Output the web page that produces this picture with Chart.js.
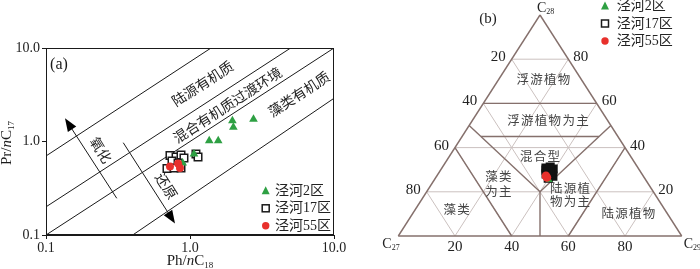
<!DOCTYPE html>
<html><head><meta charset="utf-8">
<script src="https://cdn.jsdelivr.net/npm/chart.js@4.4.1/dist/chart.umd.min.js"></script>
<style>
html,body{margin:0;padding:0;background:#fff;}
#wrap{position:relative;width:700px;height:269px;overflow:hidden;background:#fff;}
#ca{position:absolute;left:0;top:0;}
#cb{position:absolute;left:350px;top:0;}
</style></head><body>
<div id="wrap"><canvas id="ca" width="350" height="269"></canvas><canvas id="cb" width="350" height="269"></canvas></div>
<script>
// ---------------- DATA ----------------
const groupNames = ['泾河2区', '泾河17区', '泾河55区'];
// Panel (a): Ph/nC18 (x) vs Pr/nC17 (y)
const a_zone2_ph  = [1.97, 2.00, 2.76, 1.36, 1.57, 1.066, 0.889];
const a_zone2_pr  = [1.67, 1.42, 1.73, 1.02, 1.02, 0.735, 0.590];
const a_zone17_ph = [0.726, 0.80, 0.866, 0.908, 0.75, 0.826, 0.866, 0.692, 0.774, 1.10, 1.137];
const a_zone17_pr = [0.708, 0.683, 0.718, 0.667, 0.618, 0.589, 0.521, 0.514, 0.521, 0.735, 0.683];
const a_zone55_ph = [0.726, 0.826, 0.852];
const a_zone55_pr = [0.541, 0.582, 0.521];
const a_ticks = [0.1, 1, 10];
// boundary lines (x pairs, y pairs)
const a_lines_x = [[0.1, 1.4], [0.1, 5], [0.1, 10], [0.4, 10]];
const a_lines_y = [[0.7, 10], [0.2, 10], [0.1, 10], [0.1, 2.9]];
const a_zoneLabels = ['陆源有机质', '混合有机质过渡环境', '藻类有机质'];
// Panel (b): sterane C27 / C28 / C29 (%)
const b_zone2_c27  = [34.1];
const b_zone2_c28  = [25.3];
const b_zone2_c29  = [40.6];
const b_zone17_c27 = [32.5, 30.8, 30.2, 32.5, 31.3, 33.8, 32.7, 31.8, 34.0, 31.5, 33.0];
const b_zone17_c28 = [30.8, 31.2, 30.3, 29.4, 29.0, 28.1, 27.6, 27.1, 26.2, 30.0, 29.8];
const b_zone17_c29 = [36.7, 38.0, 39.5, 38.1, 39.7, 38.1, 39.8, 41.0, 39.8, 38.5, 37.2];
const b_zone55_c27 = [34.3, 34.3];
const b_zone55_c28 = [27.2, 26.5];
const b_zone55_c29 = [38.5, 39.2];
const b_ticks = [20, 40, 60, 80];
const b_regionNames = ['浮游植物', '浮游植物为主', '混合型', '藻类', '为主', '陆源植', '物为主', '藻类', '陆源植物'];

// ---------------- STYLE ----------------
const SERIF = '"Liberation Serif", "Noto Sans CJK SC", serif';
const CJK = '"Noto Sans CJK SC", sans-serif';
const GREEN = '#2ea043', RED = '#e8302c', INK = '#1a1a1a';
const DARK = '#85706c', LIGHT = '#cbc1bf';

function zip(xs, ys) { return xs.map((x, i) => ({x: x, y: ys[i]})); }

function drawRich(ctx, parts, x, y, align) {
  let w = 0;
  parts.forEach(p => { ctx.font = p.f; w += ctx.measureText(p.t).width; });
  let cx = align === 'center' ? x - w / 2 : (align === 'right' ? x - w : x);
  ctx.textAlign = 'left';
  ctx.textBaseline = 'alphabetic';
  parts.forEach(p => { ctx.font = p.f; ctx.fillText(p.t, cx, y + (p.dy || 0)); cx += ctx.measureText(p.t).width; });
}
function marker(ctx, type, x, y) {
  ctx.save();
  if (type === 0) {
    ctx.fillStyle = GREEN; ctx.beginPath();
    ctx.moveTo(x, y - 4.5); ctx.lineTo(x + 4, y + 3.5); ctx.lineTo(x - 4, y + 3.5); ctx.closePath(); ctx.fill();
  } else if (type === 1) {
    ctx.fillStyle = '#fff'; ctx.strokeStyle = INK; ctx.lineWidth = 1.5;
    ctx.fillRect(x - 3.5, y - 3.5, 7, 7); ctx.strokeRect(x - 3.5, y - 3.5, 7, 7);
  } else {
    ctx.fillStyle = RED; ctx.beginPath(); ctx.arc(x, y, 3.7, 0, Math.PI * 2); ctx.fill();
  }
  ctx.restore();
}
function legend(ctx, x, tx, ys, size) {
  groupNames.forEach((n, i) => {
    marker(ctx, i, x, ys[i]);
    ctx.fillStyle = '#222'; ctx.font = size + 'px ' + SERIF;
    ctx.textAlign = 'left'; ctx.textBaseline = 'middle';
    ctx.fillText(n, tx, ys[i] + 0.5);
  });
}

// ---------------- PANEL (a) ----------------
const lineSets = a_lines_x.map((xs, i) => ({
  type: 'line', data: zip(xs, a_lines_y[i]), borderColor: INK, borderWidth: 1,
  pointRadius: 0, fill: false, order: 10
}));

const panelA = {
  id: 'panelA',
  beforeDatasetsDraw(chart) {
    const ctx = chart.ctx, xs = chart.scales.x, ys = chart.scales.y;
    const P = (x, y) => [xs.getPixelForValue(x), ys.getPixelForValue(y)];
    ctx.save();
    // arrows
    const arrows = [[0.31, 0.247, 0.1355, 1.77], [0.344, 0.971, 0.787, 0.133]];
    arrows.forEach(a => {
      const [x0, y0] = P(a[0], a[1]), [x1, y1] = P(a[2], a[3]);
      const ang = Math.atan2(y1 - y0, x1 - x0);
      ctx.strokeStyle = INK; ctx.lineWidth = 1;
      ctx.beginPath(); ctx.moveTo(x0, y0);
      ctx.lineTo(x1 - 10 * Math.cos(ang), y1 - 10 * Math.sin(ang)); ctx.stroke();
      ctx.fillStyle = '#000'; ctx.beginPath();
      ctx.moveTo(x1, y1);
      ctx.lineTo(x1 - 13 * Math.cos(ang) + 5 * Math.sin(ang), y1 - 13 * Math.sin(ang) - 5 * Math.cos(ang));
      ctx.lineTo(x1 - 13 * Math.cos(ang) - 5 * Math.sin(ang), y1 - 13 * Math.sin(ang) + 5 * Math.cos(ang));
      ctx.closePath(); ctx.fill();
    });
    // rotated labels
    const [p0x, p0y] = P(0.1, 0.1), [p1x, p1y] = P(10, 10);
    const diag = Math.atan2(p1y - p0y, p1x - p0x);
    ctx.fillStyle = '#222'; ctx.font = '14px ' + CJK; ctx.textAlign = 'center'; ctx.textBaseline = 'middle';
    const pos = [[202.5, 83.5], [227.5, 105], [299, 94]];
    a_zoneLabels.forEach((t, i) => {
      ctx.save(); ctx.translate(pos[i][0], pos[i][1]); ctx.rotate(diag); ctx.fillText(t, 0, 0); ctx.restore();
    });
    const rot = 58 * Math.PI / 180;
    [['氧化', 101, 150], ['还原', 166.5, 186]].forEach(l => {
      ctx.save(); ctx.translate(l[1], l[2]); ctx.rotate(rot); ctx.fillText(l[0], 0, 0); ctx.restore();
    });
    ctx.restore();
  },
  afterDraw(chart) {
    const ctx = chart.ctx, ca = chart.chartArea;
    ctx.save();
    ctx.strokeStyle = INK; ctx.lineWidth = 1;
    ctx.strokeRect(ca.left + 0.5, ca.top + 0.5, ca.right - ca.left - 1, ca.bottom - ca.top - 1);
    ctx.fillStyle = INK;
    drawRich(ctx, [{t: '(a)', f: '16px ' + SERIF}], 59, 69, 'center');
    // axis titles
    drawRich(ctx, [{t: 'Ph/', f: '15px ' + SERIF}, {t: 'n', f: 'italic 15px ' + SERIF}, {t: 'C', f: '15px ' + SERIF}, {t: '18', f: '9px ' + SERIF, dy: 3}], 190, 265, 'center');
    ctx.save(); ctx.translate(11, 143); ctx.rotate(-Math.PI / 2);
    drawRich(ctx, [{t: 'Pr/', f: '15px ' + SERIF}, {t: 'n', f: 'italic 15px ' + SERIF}, {t: 'C', f: '15px ' + SERIF}, {t: '17', f: '9px ' + SERIF, dy: 3}], 0, 0, 'center');
    ctx.restore();
    legend(ctx, 265.7, 275, [190.7, 208.3, 225.8], 14);
    ctx.restore();
  }
};

function logAxis(isX) {
  return {
    type: 'logarithmic', min: 0.1, max: 10,
    afterBuildTicks: s => { s.ticks = a_ticks.map(v => ({value: v})); },
    afterFit: s => { if (isX) s.height = 34; else s.width = 46; },
    ticks: {
      callback: v => Number(v).toFixed(1), autoSkip: false, maxRotation: 0,
      font: {family: SERIF, size: 14}, color: '#222', padding: isX ? 1 : 2
    },
    grid: {drawOnChartArea: false, drawTicks: true, tickLength: 4, color: INK},
    border: {display: true, color: INK}
  };
}

new Chart(document.getElementById('ca'), {
  type: 'scatter',
  data: {
    datasets: lineSets.concat([
      {label: groupNames[1], data: zip(a_zone17_ph, a_zone17_pr), pointStyle: 'rect', pointRadius: 5.3,
       backgroundColor: '#fff', borderColor: INK, borderWidth: 1.5, order: 3},
      {label: groupNames[0], data: zip(a_zone2_ph, a_zone2_pr), pointStyle: 'triangle', pointRadius: 5,
       backgroundColor: GREEN, borderColor: GREEN, borderWidth: 0, order: 2},
      {label: groupNames[2], data: zip(a_zone55_ph, a_zone55_pr), pointStyle: 'circle', pointRadius: 4,
       backgroundColor: RED, borderColor: RED, borderWidth: 0, order: 1}
    ])
  },
  options: {
    responsive: false, animation: false, devicePixelRatio: 1,
    layout: {padding: {left: 0, top: 48, right: 16, bottom: 0}},
    plugins: {legend: {display: false}, tooltip: {enabled: false}},
    scales: {x: logAxis(true), y: logAxis(false)}
  },
  plugins: [panelA]
});

// ---------------- PANEL (b) ----------------
const T = (c27, c28, c29) => ({x: (c29 + c28 / 2) / 100, y: c28 / 100});
function ternSet(a, b, c) { return a.map((v, i) => T(v, b[i], c[i])); }

const darkSegs = [
  [[100, 0, 0], [0, 100, 0]], [[0, 100, 0], [0, 0, 100]], [[0, 0, 100], [100, 0, 0]],
  [[40, 60, 0], [0, 60, 40]],
  [[48.33, 45, 6.67], [6.67, 45, 48.33]],
  [[50, 50, 0], [40, 20, 40]], [[0, 50, 50], [40, 20, 40]], [[40, 20, 40], [50, 0, 50]],
  [[60, 40, 0], [60, 0, 40]], [[40, 0, 60], [0, 40, 60]]
];
const regionPos = [[0.512, 0.709], [0.528, 0.524], [0.5, 0.362], [0.353, 0.27], [0.353, 0.202],
                   [0.606, 0.218], [0.606, 0.157], [0.206, 0.121], [0.812, 0.103]];

const panelB = {
  id: 'panelB',
  beforeDatasetsDraw(chart) {
    const ctx = chart.ctx, xs = chart.scales.x, ys = chart.scales.y;
    const P = c => { const t = T(c[0], c[1], c[2]); return [xs.getPixelForValue(t.x), ys.getPixelForValue(t.y)]; };
    const seg = (a, b) => { const p = P(a), q = P(b); ctx.beginPath(); ctx.moveTo(p[0], p[1]); ctx.lineTo(q[0], q[1]); ctx.stroke(); };
    ctx.save();
    ctx.strokeStyle = LIGHT; ctx.lineWidth = 1;
    b_ticks.forEach(k => {
      seg([100 - k, k, 0], [0, k, 100 - k]);
      seg([k, 100 - k, 0], [k, 0, 100 - k]);
      seg([0, 100 - k, k], [100 - k, 0, k]);
    });
    ctx.strokeStyle = DARK; ctx.lineWidth = 1.4;
    darkSegs.forEach(s => seg(s[0], s[1]));
    // region labels
    ctx.fillStyle = '#444'; ctx.font = '12.5px ' + CJK; ctx.textAlign = 'center'; ctx.textBaseline = 'middle';
    b_regionNames.forEach((t, i) => {
      const px = xs.getPixelForValue(regionPos[i][0]), py = ys.getPixelForValue(regionPos[i][1]);
      const pitch = 13.8, n = t.length;
      for (let j = 0; j < n; j++) ctx.fillText(t[j], px + (j - (n - 1) / 2) * pitch, py);
    });
    // tick labels
    ctx.fillStyle = '#222'; ctx.font = '15px ' + SERIF;
    b_ticks.forEach(k => {
      let p = P([100 - k, 0, k]);
      ctx.textAlign = 'center'; ctx.textBaseline = 'middle'; ctx.fillText(String(k), p[0], p[1] + 11);
      p = P([k, 100 - k, 0]);
      ctx.textAlign = 'right'; ctx.fillText(String(k), p[0] - 6, p[1] - 2);
      p = P([0, k, 100 - k]);
      ctx.textAlign = 'left'; ctx.fillText(String(k), p[0] + 5, p[1] - 2);
    });
    // vertex labels
    ctx.fillStyle = '#222';
    let v = P([0, 100, 0]);
    drawRich(ctx, [{t: 'C', f: '14px ' + SERIF}, {t: '28', f: '8px ' + SERIF, dy: 2}], v[0] - 3, v[1] - 3, 'left');
    v = P([100, 0, 0]);
    drawRich(ctx, [{t: 'C', f: '14px ' + SERIF}, {t: '27', f: '8px ' + SERIF, dy: 2}], v[0] - 16, v[1] + 12, 'left');
    v = P([0, 0, 100]);
    drawRich(ctx, [{t: 'C', f: '14px ' + SERIF}, {t: '29', f: '8px ' + SERIF, dy: 2}], v[0] + 2, v[1] + 12, 'left');
    drawRich(ctx, [{t: '(b)', f: '15px ' + SERIF}], 138, 23, 'center');
    ctx.restore();
  },
  afterDraw(chart) {
    legend(chart.ctx, 255, 266.7, [6, 23.5, 41], 14);
  }
};

new Chart(document.getElementById('cb'), {
  type: 'scatter',
  data: {
    datasets: [
      {label: groupNames[1], data: ternSet(b_zone17_c27, b_zone17_c28, b_zone17_c29), pointStyle: 'rect', pointRadius: 5,
       backgroundColor: '#111', borderColor: '#111', borderWidth: 2, order: 3},
      {label: groupNames[0], data: ternSet(b_zone2_c27, b_zone2_c28, b_zone2_c29), pointStyle: 'triangle', pointRadius: 4,
       backgroundColor: GREEN, borderColor: GREEN, borderWidth: 0, order: 2},
      {label: groupNames[2], data: ternSet(b_zone55_c27, b_zone55_c28, b_zone55_c29), pointStyle: 'circle', pointRadius: 4.3,
       backgroundColor: RED, borderColor: RED, borderWidth: 0, order: 1}
    ]
  },
  options: {
    responsive: false, animation: false, devicePixelRatio: 1,
    layout: {padding: {left: 48.3, top: 15, right: 18.3, bottom: 33}},
    plugins: {legend: {display: false}, tooltip: {enabled: false}},
    scales: {
      x: {type: 'linear', min: 0, max: 1, display: false},
      y: {type: 'linear', min: 0, max: 1, display: false}
    },
    clip: false
  },
  plugins: [panelB]
});
</script>
</body></html>
